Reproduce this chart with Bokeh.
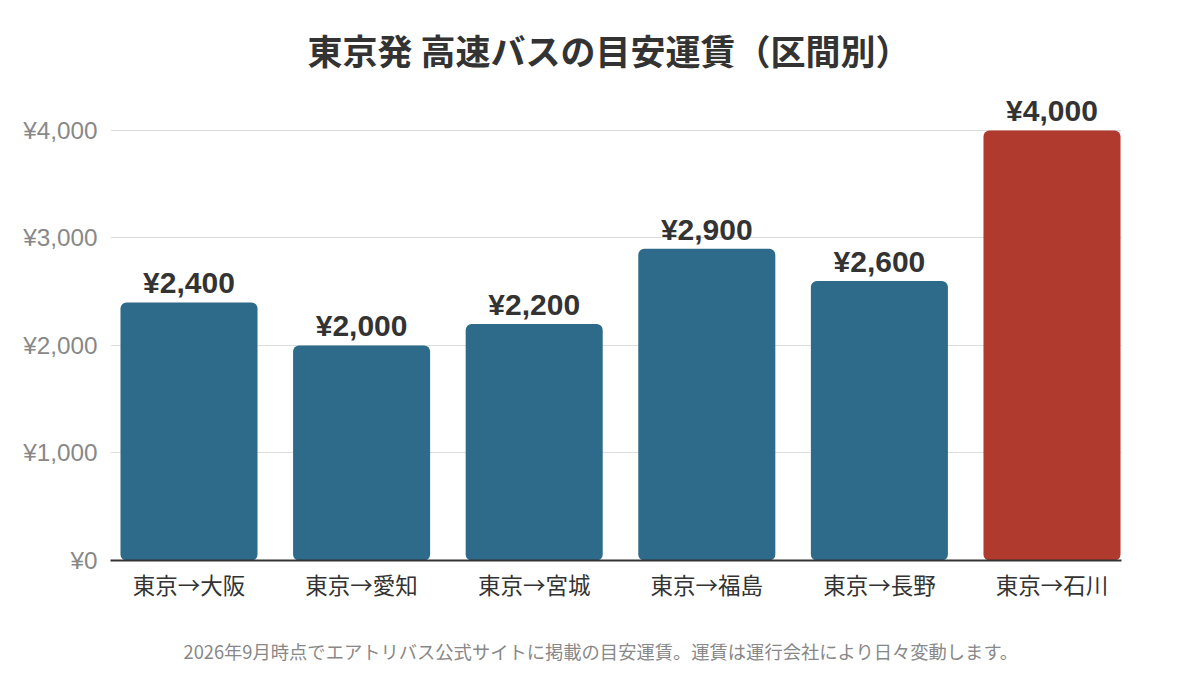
from bokeh.plotting import figure
from bokeh.models import ColumnDataSource, LabelSet, FixedTicker, Range1d, Title
from bokeh.core.properties import value
from bokeh.embed import file_html
from bokeh.resources import INLINE

# chart data
routes = ["東京→大阪", "東京→愛知", "東京→宮城", "東京→福島", "東京→長野", "東京→石川"]
fares = [2400, 2000, 2200, 2900, 2600, 4000]
y_ticks = [0, 1000, 2000, 3000, 4000]
title_text = "東京発 高速バスの目安運賃（区間別）"
note_text = "2026年9月時点でエアトリバス公式サイトに掲載の目安運賃。運賃は運行会社により日々変動します。"

FONT = "Noto Sans CJK JP"
NUM_FONT = "Liberation Sans"
BLUE = "#2e6b8a"
RED = "#b03a2e"

xs = list(range(len(routes)))
colors = [RED if f == max(fares) else BLUE for f in fares]

source = ColumnDataSource(dict(
    x=xs,
    fare=fares,
    color=colors,
    label=["¥{:,}".format(f) for f in fares],
))

p = figure(
    width=1184, height=697,
    x_range=Range1d(-0.4548, 5.4027),
    y_range=Range1d(0, 4465),
    toolbar_location=None,
    output_backend="svg",
    min_border_left=110, min_border_right=63,
    min_border_top=80, min_border_bottom=137,
)

p.title.text = title_text
p.title.align = "left"
p.title.offset = 197
p.title.text_font = FONT
p.title.text_font_size = "35px"
p.title.text_font_style = "bold"
p.title.text_color = "#333333"
p.title.standoff = 12

p.outline_line_color = None
p.xgrid.visible = False
p.ygrid.ticker = FixedTicker(ticks=y_ticks)
p.ygrid.grid_line_color = "#dddddd"

p.vbar(x="x", top="fare", bottom=0, width=0.794, fill_color="color",
       line_color=None, border_radius=6, source=source)

# value labels above the bars
p.add_layout(LabelSet(x="x", y="fare", text="label", source=source,
                      y_offset=9, text_align="center", text_baseline="alphabetic",
                      text_font=value(NUM_FONT), text_font_size="30px",
                      text_font_style="bold", text_color="#333333"))

ya = p.yaxis[0]
ya.ticker = FixedTicker(ticks=y_ticks)
ya.major_label_overrides = {v: "¥{:,}".format(v) for v in y_ticks}
ya.axis_line_color = None
ya.major_tick_line_color = None
ya.minor_tick_line_color = None
ya.major_label_standoff = 7
ya.major_label_text_font = NUM_FONT
ya.major_label_text_font_size = "24.3px"
ya.major_label_text_color = "#888888"

xa = p.xaxis[0]
xa.ticker = FixedTicker(ticks=xs)
xa.major_label_overrides = {i: r for i, r in zip(xs, routes)}
xa.major_tick_line_color = None
xa.minor_tick_line_color = None
xa.axis_line_color = "#333333"
xa.axis_line_width = 2
xa.major_label_standoff = 1
xa.major_label_text_font = FONT
xa.major_label_text_font_size = "22.5px"
xa.major_label_text_color = "#333333"

note = Title(text=note_text, align="left", offset=73, text_font=FONT,
             text_font_size="18.3px", text_font_style="normal",
             text_color="#888888", standoff=67)
p.add_layout(note, "below")

open("out.html", "w").write(file_html(p, INLINE))
